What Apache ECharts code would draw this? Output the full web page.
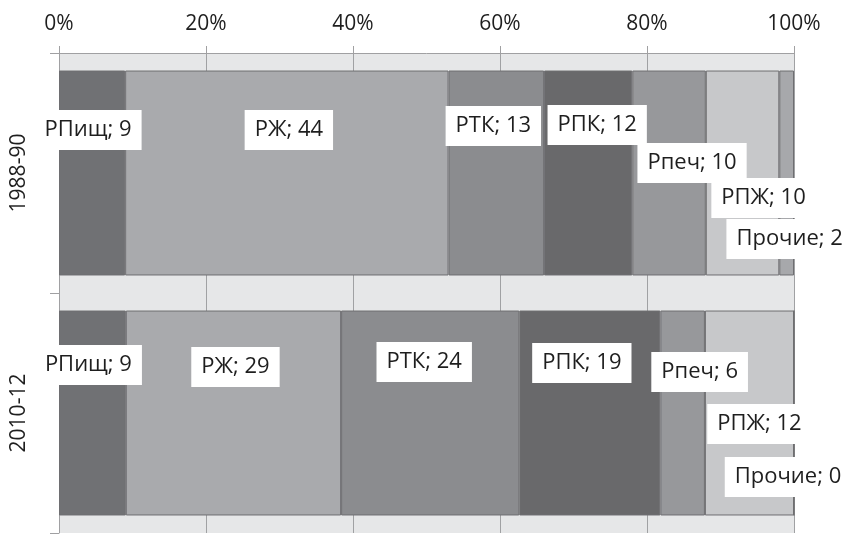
<!DOCTYPE html>
<html>
<head>
<meta charset="utf-8">
<script src="https://cdn.jsdelivr.net/npm/echarts@6/dist/echarts.min.js"></script>
<style>
  html, body { margin: 0; padding: 0; background: #fff; }
  #chart { width: 848px; height: 534px; }
</style>
</head>
<body>
<div id="chart"></div>
<script>
// Periods shown as rows
const categories = ['1988-90', '2010-12'];
// Segment names
const seriesNames = ['РПищ', 'РЖ', 'РТК', 'РПК', 'Рпеч', 'РПЖ', 'Прочие'];
// Shares for each period, in the order of seriesNames
const values1988 = [9, 44, 13, 12, 10, 10, 2];
const values2010 = [9, 29, 24, 19, 6, 12, 0];
// Percent axis ticks
const tickValues = [0, 20, 40, 60, 80, 100];

// Styling
const colors = ['#707174', '#a9aaad', '#8b8c8f', '#69696b', '#97989b', '#c7c8ca', '#a7a8ab'];
// Label nudges [dx, dy] from each segment's centre, per period
const labelOffsets1988 = [[-4, -43], [2, -43], [-3, -47], [9, -48], [23, -10], [21, 25], [3, 66]];
const labelOffsets2010 = [[-4, -48], [2, -46], [-6, -51], [-8, -50], [17, -41], [10, 11], [-6, 64]];

const rows = [values1988, values2010];
const offsets = [labelOffsets1988, labelOffsets2010];
const totals = rows.map(r => r.reduce((a, b) => a + b, 0));

const FONT = '"Open Sans", "Noto Sans", sans-serif';

const series = seriesNames.map((name, si) => ({
  name,
  type: 'bar',
  stack: 'share',
  barCategoryGap: '14.6%',
  itemStyle: { color: colors[si], borderColor: '#6e6e71', borderWidth: 1 },
  label: {
    show: true,
    position: 'inside',
    color: '#1e1e1e',
    fontFamily: FONT,
    fontSize: 22,
    backgroundColor: '#ffffff',
    padding: [9, 10, 9, 10],
    formatter: p => name + '; ' + rows[p.dataIndex][si]
  },
  emphasis: { disabled: true },
  data: rows.map((r, ci) => ({
    value: r[si] / totals[ci] * 100,
    label: { offset: offsets[ci][si] }
  }))
}));

const chart = echarts.init(document.getElementById('chart'));
chart.setOption({
  animation: false,
  grid: {
    left: 59, right: 54, top: 53, bottom: 1,
    show: true, backgroundColor: '#e6e7e8', borderWidth: 0
  },
  xAxis: {
    type: 'value',
    position: 'top',
    min: tickValues[0],
    max: tickValues[tickValues.length - 1],
    interval: tickValues[1] - tickValues[0],
    axisLine: { show: true, lineStyle: { color: '#a0a0a2', width: 1 } },
    axisTick: { show: true, length: 7, lineStyle: { color: '#a0a0a2' } },
    splitLine: { show: true, lineStyle: { color: '#a0a1a3', width: 1 } },
    axisLabel: {
      formatter: '{value}%', color: '#1e1e1e', fontFamily: FONT, fontSize: 21, margin: 18
    }
  },
  yAxis: {
    type: 'category',
    inverse: true,
    data: categories,
    axisLine: { show: true, lineStyle: { color: '#a0a0a2', width: 1 } },
    axisTick: { show: true, length: 9, lineStyle: { color: '#a0a0a2' } },
    axisLabel: {
      rotate: 90, color: '#1e1e1e', fontFamily: FONT, fontSize: 21, margin: 29
    }
  },
  series
});
</script>
</body>
</html>
